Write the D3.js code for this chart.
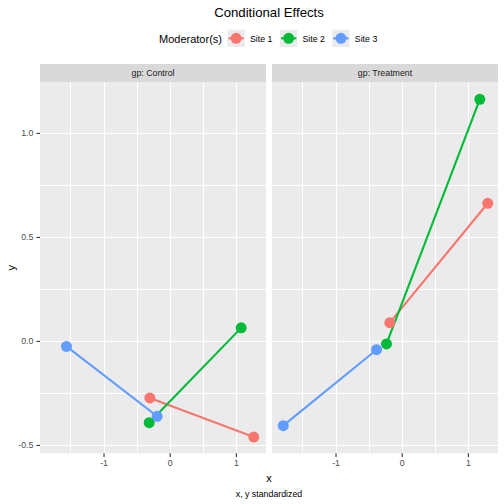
<!DOCTYPE html>
<html>
<head>
<meta charset="utf-8">
<script src="https://cdn.jsdelivr.net/npm/d3@7"></script>
<style>
  body { margin: 0; background: #fff; }
  text { font-family: "Liberation Sans", Arial, sans-serif; }
</style>
</head>
<body>
<div id="chart"></div>
<script>
const groups = ["Control", "Treatment"];
const sites = ["Site 1", "Site 2", "Site 3"];
const colors = ["#F8766D", "#00BA38", "#619CFF"];

// [low, high] end of each site's line, by group
const controlX = [[-0.30, 1.27], [-0.31, 1.08], [-1.56, -0.19]];
const controlY = [[-0.274, -0.462], [-0.393, 0.063], [-0.026, -0.362]];
const treatmentX = [[-0.18, 1.30], [-0.23, 1.18], [-1.79, -0.38]];
const treatmentY = [[0.088, 0.662], [-0.014, 1.162], [-0.407, -0.042]];

const xTicks = [-1, 0, 1];
const xTickLabels = ["-1", "0", "1"];
const xMinor = [-1.5, -0.5, 0.5, 1.5];
const yTicks = [-0.5, 0, 0.5, 1];
const yTickLabels = ["-0.5", "0.0", "0.5", "1.0"];
const yMinor = [-0.25, 0.25, 0.75];

const width = 504;
const height = 504;

const panels = [
  { name: groups[0], left: 40, right: 266, xs: controlX, ys: controlY },
  { name: groups[1], left: 272, right: 498, xs: treatmentX, ys: treatmentY }
];
const stripTop = 64;
const panelTop = 82;
const panelBottom = 453.3;

const svg = d3.select("#chart")
  .append("svg")
  .attr("width", width)
  .attr("height", height);

const y = d3.scaleLinear()
  .domain([-0.54, 1.245])
  .range([panelBottom, panelTop]);

// title
svg.append("text")
  .attr("x", 269).attr("y", 17)
  .attr("text-anchor", "middle")
  .attr("font-size", 13.2)
  .attr("fill", "#000")
  .text("Conditional Effects");

// legend
const legend = svg.append("g");
legend.append("text")
  .attr("x", 159).attr("y", 43)
  .attr("font-size", 11)
  .text("Moderator(s)");
const keyX = [227.5, 280, 332.3];
sites.forEach((s, i) => {
  const g = legend.append("g").attr("transform", `translate(${keyX[i]},29.7)`);
  g.append("rect").attr("width", 17.3).attr("height", 17.3).attr("fill", "#EBEBEB");
  g.append("line")
    .attr("x1", 1).attr("x2", 16.3).attr("y1", 8.65).attr("y2", 8.65)
    .attr("stroke", colors[i]).attr("stroke-width", 2.1);
  g.append("circle").attr("cx", 8.65).attr("cy", 8.65).attr("r", 5.5).attr("fill", colors[i]);
  g.append("text")
    .attr("x", 22.5).attr("y", 12.3)
    .attr("font-size", 8.8)
    .text(s);
});

panels.forEach((p) => {
  const x = d3.scaleLinear()
    .domain([-1.96, 1.455])
    .range([p.left, p.right]);

  const g = svg.append("g");

  // strip
  g.append("rect")
    .attr("x", p.left).attr("y", stripTop)
    .attr("width", p.right - p.left).attr("height", panelTop - stripTop)
    .attr("fill", "#D9D9D9");
  g.append("text")
    .attr("x", (p.left + p.right) / 2).attr("y", stripTop + 12.3)
    .attr("text-anchor", "middle")
    .attr("font-size", 8.8)
    .attr("fill", "#1A1A1A")
    .text("gp: " + p.name);

  // background
  g.append("rect")
    .attr("x", p.left).attr("y", panelTop)
    .attr("width", p.right - p.left).attr("height", panelBottom - panelTop)
    .attr("fill", "#EBEBEB");

  // grid
  const grid = g.append("g").attr("stroke", "#fff").attr("shape-rendering", "crispEdges");
  const xGrid = xMinor.filter(v => x(v) > p.left && x(v) < p.right).concat(xTicks);
  const yGrid = yMinor.concat(yTicks);
  grid.selectAll(".gx").data(xGrid).join("line")
    .attr("x1", d => Math.round(x(d)) + 0.5).attr("x2", d => Math.round(x(d)) + 0.5)
    .attr("y1", panelTop).attr("y2", panelBottom).attr("stroke-width", 1);
  grid.selectAll(".gy").data(yGrid).join("line")
    .attr("y1", d => Math.round(y(d)) + 0.5).attr("y2", d => Math.round(y(d)) + 0.5)
    .attr("x1", p.left).attr("x2", p.right).attr("stroke-width", 1);

  // x axis
  const xAxis = g.append("g")
    .attr("transform", `translate(0,${panelBottom})`)
    .call(d3.axisBottom(x).tickValues(xTicks).tickSize(3.6).tickPadding(3)
      .tickFormat((d, i) => xTickLabels[i]));
  xAxis.select(".domain").remove();
  xAxis.selectAll("line").attr("stroke", "#333").attr("stroke-width", 1.1);
  xAxis.selectAll("text").attr("font-size", 8.8).attr("fill", "#4D4D4D")
    .attr("font-family", "Liberation Sans, Arial, sans-serif");

  // lines and points
  const line = d3.line().x(d => x(d[0])).y(d => y(d[1]));
  const series = sites.map((s, i) => [[p.xs[i][0], p.ys[i][0]], [p.xs[i][1], p.ys[i][1]]]);
  g.selectAll(".ln").data(series).join("path")
    .attr("d", d => line(d))
    .attr("fill", "none")
    .attr("stroke", (d, i) => colors[i])
    .attr("stroke-width", 2.1);
  series.forEach((d, i) => {
    g.selectAll(null).data(d).join("circle")
      .attr("cx", v => x(v[0])).attr("cy", v => y(v[1]))
      .attr("r", 5.5)
      .attr("fill", colors[i]);
  });
});

// y axis (left panel only)
const yAxis = svg.append("g")
  .attr("transform", `translate(${panels[0].left},0)`)
  .call(d3.axisLeft(y).tickValues(yTicks).tickSize(3.6).tickPadding(3)
    .tickFormat((d, i) => yTickLabels[i]));
yAxis.select(".domain").remove();
yAxis.selectAll("line").attr("stroke", "#333").attr("stroke-width", 1.1);
yAxis.selectAll("text").attr("font-size", 8.8).attr("fill", "#4D4D4D")
  .attr("font-family", "Liberation Sans, Arial, sans-serif");

// axis titles
svg.append("text")
  .attr("transform", `translate(15,${(panelTop + panelBottom) / 2}) rotate(-90)`)
  .attr("text-anchor", "middle")
  .attr("font-size", 11)
  .text("y");
svg.append("text")
  .attr("x", 269).attr("y", 482)
  .attr("text-anchor", "middle")
  .attr("font-size", 11)
  .text("x");
svg.append("text")
  .attr("x", 269).attr("y", 496.5)
  .attr("text-anchor", "middle")
  .attr("font-size", 8.8)
  .text("x, y standardized");
</script>
</body>
</html>
